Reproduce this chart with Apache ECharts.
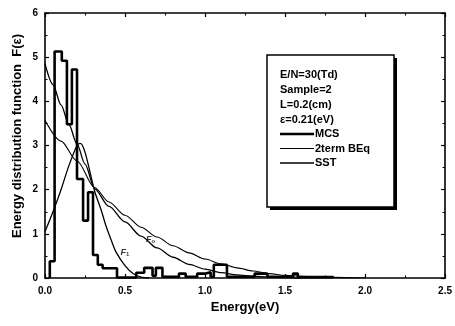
<!DOCTYPE html>
<html><head><meta charset="utf-8">
<script src="https://cdn.jsdelivr.net/npm/echarts@6/dist/echarts.min.js"></script>
<style>html,body{margin:0;padding:0;background:#fff}#c{width:455px;height:326px}</style>
</head><body><div id="c"></div>
<script>
// ---- data ----
var xTicks = ['0.0','0.5','1.0','1.5','2.0','2.5'];
var yTicks = ['0','1','2','3','4','5','6'];
// MCS histogram: bin edges (eV) and bin values
var mcsEdges = [0.03,0.06,0.105,0.137,0.168,0.2,0.238,0.269,0.3,0.33,0.36,0.45,0.57,0.62,0.672,0.693,0.734,0.837,0.879,0.951,1.003,1.035,1.055,1.137,1.31,1.39,1.55,1.58,1.8];
var mcsValues = [0.38,5.13,4.92,3.48,4.72,2.24,1.3,1.94,0.52,0.3,0.22,0.01,0.12,0.23,0.05,0.23,0.03,0.1,0.03,0.1,0.13,0.03,0.3,0.03,0.1,0.03,0.1,0.02];
// 2term BEq curve
var bEqX = [0,0.1,0.2,0.31,0.4,0.5,0.6,0.7,0.8,0.9,1.0,1.1,1.2,1.3,1.4,1.5,1.6,1.8,2.0];
var bEqY = [3.57,3.1,2.65,2.05,1.72,1.42,1.15,0.93,0.73,0.57,0.43,0.32,0.23,0.16,0.1,0.06,0.04,0.015,0];
// SST F0
var f0X = [0,0.05,0.1,0.15,0.2,0.25,0.31,0.4,0.5,0.6,0.7,0.8,0.9,1.0,1.1,1.2,1.3,1.4,1.5,1.6];
var f0Y = [4.85,4.38,3.92,3.47,3.03,2.58,2.02,1.62,1.27,0.95,0.68,0.47,0.31,0.2,0.12,0.07,0.04,0.02,0.01,0];
// SST F1
var f1X = [0,0.05,0.1,0.15,0.2,0.22,0.25,0.31,0.35,0.383,0.42,0.445,0.5,0.55,0.6,0.65];
var f1Y = [1.05,1.5,2.0,2.55,3.0,3.05,2.85,1.97,1.55,1.16,0.8,0.58,0.28,0.1,0.02,0];
// text
var infoLines = ['E/N=30(Td)','Sample=2','L=0.2(cm)','\u03b5=0.21(eV)'];
var seriesNames = ['MCS','2term BEq','SST'];

// ---- build ----
function zip(a,b){return a.map(function(v,i){return [v,b[i]];});}
var mcsPts = [[mcsEdges[0],0]];
for (var i=0;i<mcsValues.length;i++){
  mcsPts.push([mcsEdges[i],mcsValues[i]]);
  mcsPts.push([mcsEdges[i+1],mcsValues[i]]);
}
mcsPts.push([mcsEdges[mcsEdges.length-1],0]);

var chart = echarts.init(document.getElementById('c'));
var FONT = 'Liberation Sans, Arial, sans-serif';
function axisCommon(pos, showLabel, isX){
  return {
    type:'value', position:pos, min:0, max:isX?2.5:6, interval:isX?0.5:1,
    axisLine:{show:true,onZero:false,lineStyle:{color:'#000',width:1.6}},
    axisTick:{show:true,inside:true,length:4,lineStyle:{color:'#000',width:1.2}},
    minorTick:{show:true,splitNumber:2,length:2.5,lineStyle:{color:'#000',width:1}},
    splitLine:{show:false},
    axisLabel:{show:showLabel,color:'#000',fontFamily:FONT,fontWeight:'bold',fontSize:10,margin:isX?8:7,
      formatter:function(v){ return isX ? xTicks[Math.round(v/0.5)] : yTicks[Math.round(v)]; }}
  };
}
var xb = axisCommon('bottom',true,true);
xb.name='Energy(eV)'; xb.nameLocation='middle'; xb.nameGap=22;
xb.nameTextStyle={color:'#000',fontFamily:FONT,fontSize:13,fontWeight:'bold'};
var xt = axisCommon('top',false,true);
var yl = axisCommon('left',true,false);
var yr = axisCommon('right',false,false);

var legendWidths = [2.6,1.1,1.3];
var g = [
  {type:'rect',shape:{x:270,y:58,width:127,height:152},style:{fill:'#000'},z:1},
  {type:'rect',shape:{x:267,y:55,width:127,height:152},style:{fill:'#fff',stroke:'#000',lineWidth:1.5},z:2}
];
infoLines.forEach(function(t,k){
  g.push({type:'text',x:280,y:75+15*k,style:{text:t,fill:'#000',font:'bold 11px '+FONT,textVerticalAlign:'middle'},z:3});
});
seriesNames.forEach(function(t,k){
  var yy = 134+14.5*k;
  g.push({type:'line',shape:{x1:280,y1:yy,x2:314,y2:yy},style:{stroke:'#000',lineWidth:legendWidths[k]},z:3});
  g.push({type:'text',x:315,y:yy,style:{text:t,fill:'#000',font:'bold 11px '+FONT,textVerticalAlign:'middle'},z:3});
});
g.push({type:'text',x:17,y:136,rotation:Math.PI/2,
  style:{text:'Energy distribution function  F(\u03b5)',fill:'#000',font:'bold 13px '+FONT,textAlign:'center',textVerticalAlign:'middle'},z:3});

chart.setOption({
  animation:false,
  backgroundColor:'#fff',
  grid:{left:45,right:8,top:13,bottom:48,containLabel:false},
  xAxis:[xb,xt],
  yAxis:[yl,yr],
  series:[
    {name:'MCS',type:'line',data:mcsPts,showSymbol:false,symbol:'none',
      lineStyle:{color:'#000',width:2.6},itemStyle:{color:'#000'},z:5},
    {name:'2term BEq',type:'line',data:zip(bEqX,bEqY),showSymbol:false,symbol:'none',smooth:0.3,smoothMonotone:'x',
      lineStyle:{color:'#000',width:1.1},itemStyle:{color:'#000'}},
    {name:'SST',type:'line',data:zip(f0X,f0Y),showSymbol:false,symbol:'none',smooth:0.3,smoothMonotone:'x',
      lineStyle:{color:'#000',width:1.3},itemStyle:{color:'#000'}},
    {name:'SST',type:'line',data:zip(f1X,f1Y),showSymbol:false,symbol:'none',smooth:0.3,
      lineStyle:{color:'#000',width:1.3},itemStyle:{color:'#000'}},
    {name:'labels',type:'scatter',symbolSize:1,itemStyle:{color:'rgba(0,0,0,0)'},silent:true,
      data:[{value:[0.66,0.88],name:'o'},{value:[0.5,0.58],name:'1'}],
      label:{show:true,position:'inside',formatter:function(p){return '{a|F}{b|'+p.name+'}';},
        rich:{a:{fontFamily:FONT,fontSize:9,fontStyle:'italic',fontWeight:'bold',color:'#000'},
              b:{fontFamily:FONT,fontSize:6,fontWeight:'bold',color:'#000',verticalAlign:'bottom',padding:[4,0,0,0]}}}}
  ],
  graphic:g
});
</script></body></html>
